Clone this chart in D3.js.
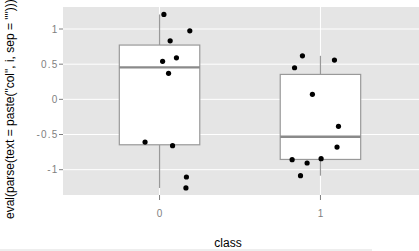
<!DOCTYPE html>
<html>
<head>
<meta charset="utf-8">
<script src="https://cdn.jsdelivr.net/npm/d3@7"></script>
<style>
  body { margin: 0; background: #fff; }
  svg { display: block; font-family: "Liberation Sans", Arial, sans-serif; }
</style>
</head>
<body>
<svg id="chart"></svg>
<script>
// Data
const classes = [0, 1];
const class0Values = [1.207, 0.974, 0.832, 0.591, 0.540, 0.370, -0.607, -0.659, -1.104, -1.260];
const class0Jitter = [0.027, 0.188, 0.066, 0.105, 0.019, 0.056, -0.090, 0.081, 0.167, 0.164];
const class1Values = [0.619, 0.558, 0.449, 0.071, -0.384, -0.678, -0.858, -0.905, -0.844, -1.085];
const class1Jitter = [-0.112, 0.087, -0.161, -0.050, 0.112, 0.103, -0.176, -0.083, 0.004, -0.124];
const yTicks = [-1, -0.5, 0, 0.5, 1];
const yTickLabels = ['-1', '-0.5', '0', '0.5', '1'];
const xTitle = 'class';
const yTitle = 'eval(parse(text = paste("col", i, sep = "")))';

const groups = [
  { cls: classes[0], values: class0Values, jitter: class0Jitter },
  { cls: classes[1], values: class1Values, jitter: class1Jitter }
];

const width = 419;
const height = 251;
const panel = { left: 63, right: 419, top: 7, bottom: 195 };

const svg = d3.select('#chart')
  .attr('width', width)
  .attr('height', height);

// Scales
const xScale = d3.scaleLinear()
  .domain([-0.6, 1.6])
  .range([63, 417]);

const yScale = d3.scaleLinear()
  .domain([-1.36, 1.313])
  .range([panel.bottom, panel.top]);

// Panel background
svg.append('rect')
  .attr('x', panel.left)
  .attr('y', panel.top)
  .attr('width', panel.right - panel.left)
  .attr('height', panel.bottom - panel.top)
  .attr('fill', '#e5e5e5');

// Grid lines
svg.append('g')
  .selectAll('line')
  .data(yTicks)
  .join('line')
  .attr('x1', panel.left)
  .attr('x2', panel.right)
  .attr('y1', d => yScale(d))
  .attr('y2', d => yScale(d))
  .attr('stroke', '#fff')
  .attr('stroke-width', 1);

svg.append('g')
  .selectAll('line')
  .data(classes)
  .join('line')
  .attr('x1', d => xScale(d))
  .attr('x2', d => xScale(d))
  .attr('y1', panel.top)
  .attr('y2', panel.bottom)
  .attr('stroke', '#fff')
  .attr('stroke-width', 1);

// Box plots (stats computed from the values)
const boxWidth = 0.5;
const boxColor = '#999';

groups.forEach(g => {
  const sorted = g.values.slice().sort(d3.ascending);
  const q1 = d3.quantile(sorted, 0.25);
  const med = d3.quantile(sorted, 0.5);
  const q3 = d3.quantile(sorted, 0.75);
  const iqr = q3 - q1;
  const lo = d3.min(sorted.filter(v => v >= q1 - 1.5 * iqr));
  const hi = d3.max(sorted.filter(v => v <= q3 + 1.5 * iqr));
  const cx = xScale(g.cls);
  const x0 = xScale(g.cls - boxWidth / 2);
  const x1 = xScale(g.cls + boxWidth / 2);

  const gBox = svg.append('g');

  // whiskers
  gBox.append('line')
    .attr('x1', cx).attr('x2', cx)
    .attr('y1', yScale(hi)).attr('y2', yScale(q3))
    .attr('stroke', boxColor).attr('stroke-width', 1.2);
  gBox.append('line')
    .attr('x1', cx).attr('x2', cx)
    .attr('y1', yScale(q1)).attr('y2', yScale(lo))
    .attr('stroke', boxColor).attr('stroke-width', 1.2);

  // box
  gBox.append('rect')
    .attr('x', x0)
    .attr('y', yScale(q3))
    .attr('width', x1 - x0)
    .attr('height', yScale(q1) - yScale(q3))
    .attr('fill', '#fff')
    .attr('stroke', boxColor)
    .attr('stroke-width', 1.2);

  // median
  gBox.append('line')
    .attr('x1', x0).attr('x2', x1)
    .attr('y1', yScale(med)).attr('y2', yScale(med))
    .attr('stroke', '#8a8a8a').attr('stroke-width', 2.4);
});

// Jittered points
groups.forEach(g => {
  svg.append('g')
    .selectAll('circle')
    .data(g.values)
    .join('circle')
    .attr('cx', (d, i) => xScale(g.cls + g.jitter[i]))
    .attr('cy', d => yScale(d))
    .attr('r', 2.6)
    .attr('fill', '#000');
});

// Y axis ticks + labels
const yAxisG = svg.append('g');
yAxisG.selectAll('line')
  .data(yTicks)
  .join('line')
  .attr('x1', panel.left - 4)
  .attr('x2', panel.left)
  .attr('y1', d => yScale(d))
  .attr('y2', d => yScale(d))
  .attr('stroke', '#7f7f7f');
yAxisG.selectAll('text')
  .data(yTicks)
  .join('text')
  .attr('x', panel.left - 4.5)
  .attr('y', d => yScale(d))
  .attr('dy', '0.35em')
  .attr('text-anchor', 'end')
  .attr('font-size', '10px')
  .attr('letter-spacing', '1.2px')
  .attr('fill', '#7f7f7f')
  .text((d, i) => yTickLabels[i]);

// X axis ticks + labels
const xAxisG = svg.append('g');
xAxisG.selectAll('line')
  .data(classes)
  .join('line')
  .attr('x1', d => xScale(d))
  .attr('x2', d => xScale(d))
  .attr('y1', panel.bottom)
  .attr('y2', panel.bottom + 5)
  .attr('stroke', '#7f7f7f');
xAxisG.selectAll('text')
  .data(classes)
  .join('text')
  .attr('x', d => xScale(d))
  .attr('y', 217)
  .attr('text-anchor', 'middle')
  .attr('font-size', '10px')
  .attr('fill', '#7f7f7f')
  .text(d => d);

// Axis titles
svg.append('text')
  .attr('x', 228)
  .attr('y', 246.5)
  .attr('text-anchor', 'middle')
  .attr('font-size', '12px')
  .attr('fill', '#000')
  .text(xTitle);

svg.append('text')
  .attr('transform', 'translate(14, 219) rotate(-90)')
  .attr('text-anchor', 'start')
  .attr('font-size', '12px')
  .attr('fill', '#000')
  .text(yTitle);

// thin rule at the bottom edge
svg.append('line')
  .attr('x1', 0).attr('x2', 372)
  .attr('y1', 250).attr('y2', 250)
  .attr('stroke', '#ddd');
</script>
</body>
</html>
